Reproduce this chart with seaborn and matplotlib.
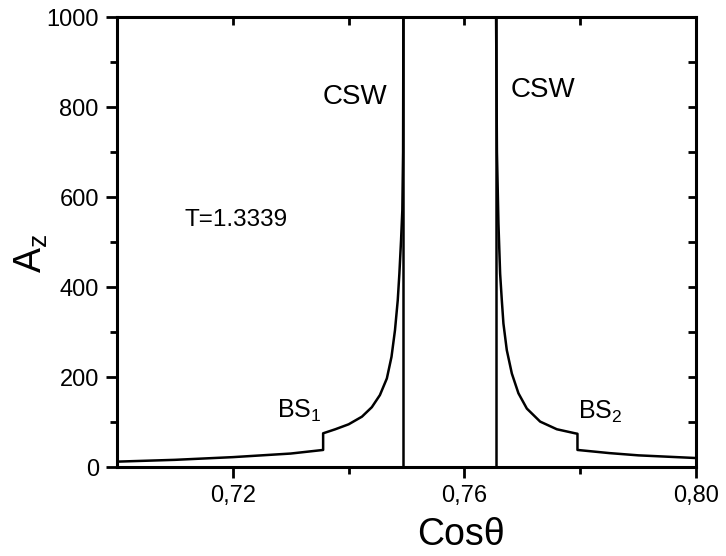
import matplotlib
matplotlib.use("Agg")
import matplotlib.pyplot as plt
import seaborn as sns
import pandas as pd
from matplotlib.ticker import MultipleLocator, FixedLocator, FuncFormatter

# ---- data ----
left_x = [0.700, 0.705, 0.710, 0.715, 0.720, 0.725, 0.730, 0.7356, 0.7356,
          0.7377, 0.7400, 0.7423, 0.7440, 0.7454, 0.7466, 0.7474, 0.7480,
          0.74848, 0.74876, 0.74905, 0.74927, 0.74940, 0.74945]
left_y = [12, 14, 16, 19, 22, 26, 30, 38, 75,
          84, 95, 112, 133, 160, 197, 245, 304,
          371, 430, 504, 571, 700, 1000]

right_x = [0.76545, 0.76560, 0.76586, 0.76615, 0.76644, 0.76672, 0.76730, 0.76817,
           0.76931, 0.77076, 0.77306, 0.77594, 0.77910, 0.7795, 0.7795,
           0.7850, 0.7900, 0.7950, 0.8000]
right_y = [1000, 700, 541, 430, 371, 319, 260, 208,
           164, 130, 101, 84, 75, 74, 38,
           31, 26, 23, 20]

csw_positions = [0.74945, 0.7654]

x_major = [0.72, 0.76, 0.80]
x_minor = [0.74, 0.78]

labels = {"csw": "CSW", "temp": "T=1.3339", "bs1": "BS$_{1}$", "bs2": "BS$_{2}$"}

sns.set_theme(style="white")
plt.rcParams['font.family'] = ['Liberation Sans', 'DejaVu Sans']
plt.rcParams['mathtext.fontset'] = 'custom'
plt.rcParams['mathtext.rm'] = 'Liberation Sans'
plt.rcParams['mathtext.it'] = 'Liberation Sans'

fig = plt.figure(figsize=(7.26, 5.56), dpi=100)
ax = fig.add_axes([0.161, 0.160, 0.798, 0.809])

df_l = pd.DataFrame({"x": left_x, "y": left_y})
df_r = pd.DataFrame({"x": right_x, "y": right_y})
sns.lineplot(data=df_l, x="x", y="y", sort=False, estimator=None, color="black", lw=1.8, ax=ax)
sns.lineplot(data=df_r, x="x", y="y", sort=False, estimator=None, color="black", lw=1.8, ax=ax)
for xv in csw_positions:
    ax.axvline(xv, color="black", lw=1.8)

ax.set_xlim(0.70, 0.80)
ax.set_ylim(0, 1000)

ax.xaxis.set_major_locator(FixedLocator(x_major))
ax.xaxis.set_minor_locator(FixedLocator(x_minor))
ax.xaxis.set_major_formatter(FuncFormatter(lambda v, p: f"{v:.2f}".replace(".", ",")))
ax.yaxis.set_major_locator(MultipleLocator(200))
ax.yaxis.set_minor_locator(MultipleLocator(100))

for s in ax.spines.values():
    s.set_visible(True)
    s.set_color("black")
    s.set_linewidth(2.2)

ax.tick_params(which="both", direction="out", color="black", width=2, labelsize=17,
               labelcolor="black", top=False, right=False, bottom=True, left=True)
ax.tick_params(which="major", length=8, pad=5)
ax.tick_params(which="minor", length=5)

# inward mirror ticks on top and right
axt = ax.secondary_xaxis("top")
axt.xaxis.set_major_locator(FixedLocator(x_major + x_minor))
axt.tick_params(direction="in", length=6, width=2, labeltop=False, color="black")
axt.spines["top"].set_visible(False)
axr = ax.secondary_yaxis("right")
axr.yaxis.set_major_locator(MultipleLocator(100))
axr.tick_params(direction="in", length=6, width=2, labelright=False, color="black")
axr.spines["right"].set_visible(False)

ax.set_xlabel("Cos\u03b8", fontsize=27, color="black", va="center", ha="center")
ax.set_ylabel("A$_{z}$", fontsize=27, color="black", va="center", ha="center")
ax.xaxis.set_label_coords(0.594, -0.150)
ax.yaxis.set_label_coords(-0.148, 0.475)

ax.text(0.7411, 822, labels["csw"], fontsize=20, ha="center", va="center", color="black")
ax.text(0.7736, 838, labels["csw"], fontsize=20, ha="center", va="center", color="black")
ax.text(0.7206, 549, labels["temp"], fontsize=17.5, ha="center", va="center", color="black")
ax.text(0.7276, 124, labels["bs1"], fontsize=18, ha="left", va="center", color="black")
ax.text(0.7796, 122, labels["bs2"], fontsize=18, ha="left", va="center", color="black")

fig.savefig("out.png", dpi=100, facecolor="white")
